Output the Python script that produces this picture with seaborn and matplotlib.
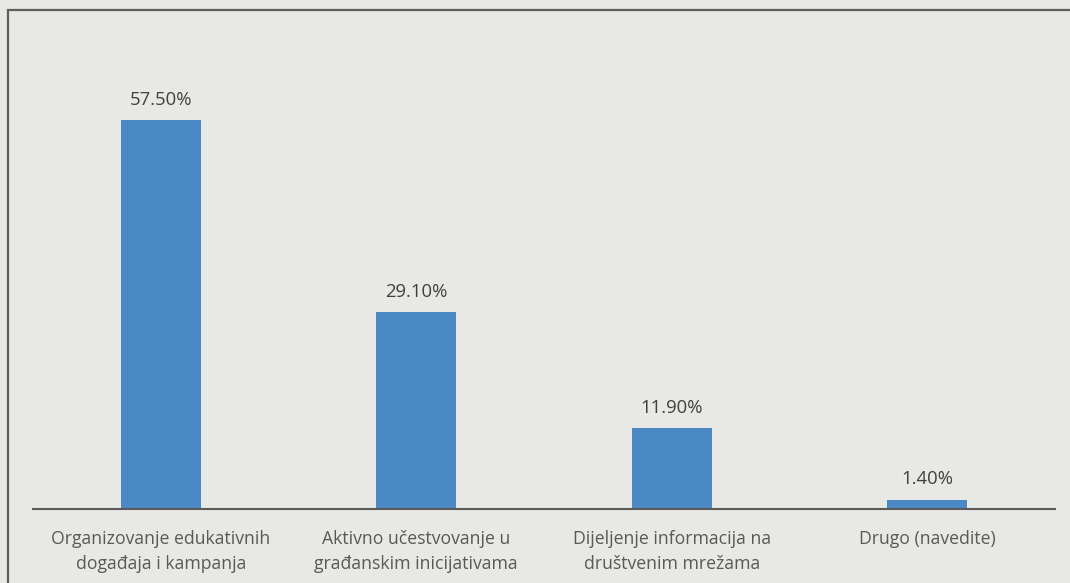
import matplotlib
matplotlib.use("Agg")
import matplotlib.pyplot as plt
import seaborn as sns
import pandas as pd
from matplotlib.patches import Rectangle

# Data
categories = [
    "Organizovanje edukativnih\ndogađaja i kampanja",
    "Aktivno učestvovanje u\ngrađanskim inicijativama",
    "Dijeljenje informacija na\ndruštvenim mrežama",
    "Drugo (navedite)",
]
values = [57.5, 29.1, 11.9, 1.4]

BG = "#e8e8e5"
BAR = "#4a88c6"

sns.set_style("white")
plt.rcParams["font.family"] = ["Open Sans", "DejaVu Sans"]

df = pd.DataFrame({"category": categories, "value": values})

W, H = 1070, 583
fig = plt.figure(figsize=(W / 100, H / 100), dpi=100, facecolor=BG)
ax = fig.add_axes([33 / W, (H - 509) / H, (1055 - 33) / W, (509 - 10) / H])
ax.set_facecolor("none")

sns.barplot(data=df, x="category", y="value", color=BAR, width=0.313,
            saturation=1, linewidth=0, ax=ax)

ax.set_ylim(0, 73.7)
ax.set_xlim(-0.5, len(categories) - 0.5)
for s in ["top", "left", "right"]:
    ax.spines[s].set_visible(False)
ax.spines["bottom"].set_color("#5a5a5a")
ax.spines["bottom"].set_linewidth(1.5)
ax.set_yticks([])
ax.set_xlabel("")
ax.set_ylabel("")
ax.tick_params(axis="x", length=0, pad=15, labelsize=12.7, colors="#595959")
for lbl in ax.get_xticklabels():
    lbl.set_linespacing(1.54)

for p, v in zip(ax.patches, values):
    ax.annotate(f"{v:.2f}%", (p.get_x() + p.get_width() / 2, p.get_height()),
                xytext=(0, 14.5), textcoords="offset points",
                ha="center", va="center", fontsize=13.3, color="#404040")

# outer frame (runs off the right and bottom edges)
fig.patches.append(Rectangle((8 / W, -0.1), 1.2, (H - 10) / H + 0.1,
                             transform=fig.transFigure, fill=False,
                             edgecolor="#5e5e5e", linewidth=1.6))

fig.savefig("out.png", dpi=100, facecolor=BG)
